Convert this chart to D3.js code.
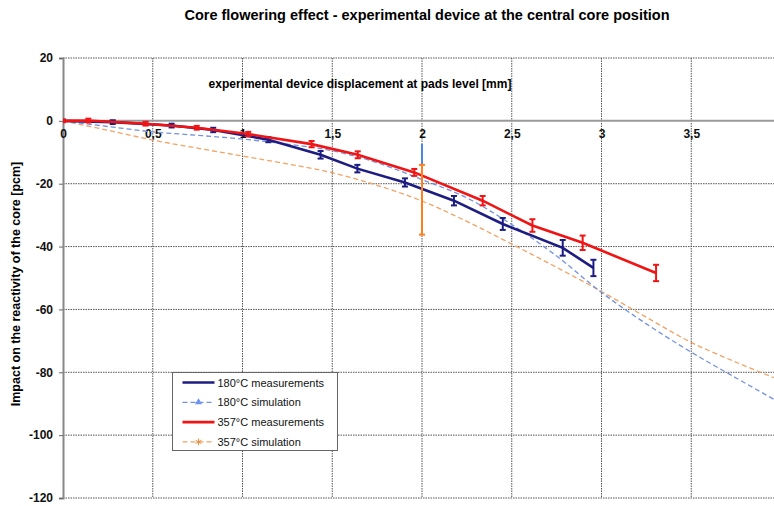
<!DOCTYPE html>
<html>
<head>
<meta charset="utf-8">
<script src="https://cdn.jsdelivr.net/npm/d3@7"></script>
<style>
  body { margin: 0; background: #fff; }
  svg { display: block; font-family: "Liberation Sans", Arial, sans-serif; }
</style>
</head>
<body>
<div id="chart-area"></div>
<script>
// tick values
const xTicks = [0, 0.5, 1, 1.5, 2, 2.5, 3, 3.5];
const yTicks = [20, 0, -20, -40, -60, -80, -100, -120];

// 180°C measurements
const meas180X = [0, 0.277, 0.605, 0.837, 1.144, 1.435, 1.64, 1.905, 2.178, 2.45, 2.784, 2.955];
const meas180Y = [0, -0.4, -1.5, -2.9, -6.0, -10.8, -15.2, -19.6, -25.4, -32.8, -40.4, -46.8];
const meas180Err = [0.4, 0.6, 0.6, 0.7, 0.8, 1.2, 1.2, 1.3, 1.5, 1.9, 2.5, 2.6];

// 357°C measurements
const meas357X = [0, 0.141, 0.46, 0.745, 1.032, 1.385, 1.642, 1.957, 2.338, 2.615, 2.895, 3.304];
const meas357Y = [0, 0.1, -0.9, -2.2, -4.2, -7.4, -10.8, -16.4, -25.4, -33.3, -38.8, -48.4];
const meas357Err = [0.4, 0.6, 0.6, 0.6, 0.7, 1.0, 1.1, 1.1, 1.5, 2.0, 2.3, 2.6];

// simulations
const simX = [0, 0.25, 0.5, 0.75, 1, 1.25, 1.5, 1.75, 2, 2.25, 2.5, 2.75, 3, 3.25, 3.5, 3.75, 3.96];
const sim180Y = [0, -1.8, -3.5, -4.6, -5.8, -7.4, -9.5, -13.3, -18.7, -24.5, -33, -43, -54.6, -64.6, -73.6, -81.8, -88.6];
const sim357Y = [0, -3, -6.1, -8.7, -11.2, -13.7, -16.5, -20.5, -25.5, -32, -39.2, -46.6, -54.3, -62.5, -70.5, -76.8, -81.7];

// simulation uncertainty bars
const simBarX = [2];
const sim180BarY = [-19.4];
const sim180BarErr = [12];
const sim357BarY = [-25.1];
const sim357BarErr = [11.1];

const legendLabels = ["180°C measurements", "180°C simulation", "357°C measurements", "357°C simulation"];

const WIDTH = 774, HEIGHT = 506;
const NAVY = "#1c1c82", RED = "#f01414", LBLUE = "#7492e0", ORANGE = "#f2a366";

const svg = d3.select("#chart-area").append("svg")
  .attr("width", WIDTH)
  .attr("height", HEIGHT);

const x = d3.scaleLinear().domain([0, 4]).range([63, 781]);
const y = d3.scaleLinear().domain([-120, 20]).range([498, 58]);

svg.append("defs").append("clipPath").attr("id", "clip")
  .append("rect").attr("x", 63).attr("y", 40).attr("width", WIDTH - 63).attr("height", 470);

// title
svg.append("text")
  .attr("x", 427).attr("y", 20)
  .attr("text-anchor", "middle")
  .attr("font-size", "14.5px").attr("font-weight", "700")
  .text("Core flowering effect - experimental device at the central core position");

// grid
const grid = svg.append("g");
grid.selectAll(".hg").data(yTicks.filter(d => d !== 0)).enter().append("line")
  .attr("x1", x(0)).attr("x2", WIDTH)
  .attr("y1", d => y(d)).attr("y2", d => y(d))
  .attr("stroke", "#555").attr("stroke-width", 1).attr("stroke-dasharray", "1.5,1");
grid.selectAll(".vg").data(xTicks.filter(d => d !== 0)).enter().append("line")
  .attr("x1", d => x(d)).attr("x2", d => x(d))
  .attr("y1", y(20)).attr("y2", y(-120))
  .attr("stroke", "#555").attr("stroke-width", 1).attr("stroke-dasharray", "1.5,1");

// zero line
svg.append("line")
  .attr("x1", x(0)).attr("x2", WIDTH)
  .attr("y1", y(0)).attr("y2", y(0))
  .attr("stroke", "#9a9a9a").attr("stroke-width", 2);

// y axis
const yAxisCall = d3.axisLeft(y).tickValues(yTicks).tickSize(4).tickPadding(6)
  .tickFormat(d => String(d));
const yAxis = svg.append("g").attr("transform", `translate(${x(0)},0)`).call(yAxisCall);
yAxis.select(".domain").attr("stroke", "#888").attr("stroke-width", 2);
yAxis.selectAll(".tick line").attr("stroke", "#666");
yAxis.selectAll("text").attr("font-size", "12px").attr("font-weight", "700")
  .attr("font-family", "Liberation Sans, Arial, sans-serif").attr("fill", "#111");

// x axis labels at y = 0
const xAxisCall = d3.axisBottom(x).tickValues(xTicks).tickSize(0).tickPadding(9)
  .tickFormat(d => String(d).replace(".", ","));
const xAxis = svg.append("g").attr("transform", `translate(0,${y(0)})`).call(xAxisCall);
xAxis.select(".domain").remove();
xAxis.selectAll("text").attr("font-size", "12px").attr("font-weight", "700")
  .attr("font-family", "Liberation Sans, Arial, sans-serif").attr("fill", "#111");

// axis titles
svg.append("text")
  .attr("x", 360).attr("y", 88)
  .attr("text-anchor", "middle")
  .attr("font-size", "12px").attr("font-weight", "700")
  .text("experimental device displacement at pads level [mm]");

svg.append("text")
  .attr("transform", "rotate(-90)")
  .attr("x", -284).attr("y", 20)
  .attr("text-anchor", "middle")
  .attr("font-size", "12.5px").attr("font-weight", "700")
  .text("Impact on the reactivity of the core [pcm]");

const plot = svg.append("g").attr("clip-path", "url(#clip)");

// simulation curves
const simLine = d3.line().x(d => x(d[0])).y(d => y(d[1])).curve(d3.curveCatmullRom.alpha(0.5));
plot.append("path")
  .attr("d", simLine(simX.map((v, i) => [v, sim357Y[i]])))
  .attr("fill", "none").attr("stroke", ORANGE).attr("stroke-width", 1.3).attr("stroke-dasharray", "5,3");
plot.append("path")
  .attr("d", simLine(simX.map((v, i) => [v, sim180Y[i]])))
  .attr("fill", "none").attr("stroke", LBLUE).attr("stroke-width", 1.3).attr("stroke-dasharray", "5,3");

// measurement series
const measLine = d3.line().x(d => x(d[0])).y(d => y(d[1]));
function drawMeasures(xs, ys, errs, color) {
  const pts = xs.map((v, i) => [v, ys[i], errs[i]]);
  plot.append("path")
    .attr("d", measLine(pts))
    .attr("fill", "none").attr("stroke", color).attr("stroke-width", 2.6);
  const eb = plot.append("g").selectAll("g").data(pts).enter().append("g")
    .attr("stroke", color).attr("stroke-width", 2);
  eb.append("line")
    .attr("x1", d => x(d[0])).attr("x2", d => x(d[0]))
    .attr("y1", d => y(d[1] + d[2])).attr("y2", d => y(d[1] - d[2]));
  eb.append("line")
    .attr("x1", d => x(d[0]) - 3).attr("x2", d => x(d[0]) + 3)
    .attr("y1", d => y(d[1] + d[2])).attr("y2", d => y(d[1] + d[2]));
  eb.append("line")
    .attr("x1", d => x(d[0]) - 3).attr("x2", d => x(d[0]) + 3)
    .attr("y1", d => y(d[1] - d[2])).attr("y2", d => y(d[1] - d[2]));
}
drawMeasures(meas180X, meas180Y, meas180Err, NAVY);
drawMeasures(meas357X, meas357Y, meas357Err, RED);

// simulation uncertainty bars at 2 mm
simBarX.forEach((v, i) => {
  plot.append("line")
    .attr("x1", x(v)).attr("x2", x(v))
    .attr("y1", y(sim180BarY[i] + sim180BarErr[i])).attr("y2", y(sim180BarY[i] - sim180BarErr[i]))
    .attr("stroke", "#4a86e8").attr("stroke-width", 2);
  const top = y(sim357BarY[i] + sim357BarErr[i]);
  const bot = y(sim357BarY[i] - sim357BarErr[i]);
  const o = plot.append("g").attr("stroke", "#ff7f1e").attr("stroke-width", 2);
  o.append("line").attr("x1", x(v)).attr("x2", x(v)).attr("y1", top).attr("y2", bot);
  o.append("line").attr("x1", x(v) - 3).attr("x2", x(v) + 3).attr("y1", top).attr("y2", top);
  o.append("line").attr("x1", x(v) - 3).attr("x2", x(v) + 3).attr("y1", bot).attr("y2", bot);
});

// legend
const legend = svg.append("g").attr("transform", "translate(172.5,372.5)");
legend.append("rect")
  .attr("width", 165).attr("height", 78)
  .attr("fill", "#fff").attr("stroke", "#666").attr("stroke-width", 1);
const legendStyles = [
  { color: NAVY, dash: null, width: 2.6, marker: null },
  { color: LBLUE, dash: "5,3", width: 1.3, marker: "tri" },
  { color: RED, dash: null, width: 2.6, marker: null },
  { color: ORANGE, dash: "5,3", width: 1.3, marker: "star" }
];
legendLabels.forEach((label, i) => {
  const row = legend.append("g").attr("transform", `translate(0,${10 + i * 19.8})`);
  const s = legendStyles[i];
  row.append("line")
    .attr("x1", 10).attr("x2", 42).attr("y1", 0).attr("y2", 0)
    .attr("stroke", s.color).attr("stroke-width", s.width)
    .attr("stroke-dasharray", s.dash);
  if (s.marker === "tri") {
    row.append("path").attr("d", d3.symbol(d3.symbolTriangle, 22)())
      .attr("transform", "translate(26,0)").attr("fill", "#6f94f0");
  } else if (s.marker === "star") {
    row.append("path").attr("d", d3.symbol(d3.symbolAsterisk, 30)())
      .attr("transform", "translate(26,0)").attr("fill", "none").attr("stroke", "#f08a3a").attr("stroke-width", 1);
  }
  row.append("text")
    .attr("x", 45).attr("y", 4)
    .attr("font-size", "11px").attr("fill", "#111")
    .text(label);
});
</script>
</body>
</html>
